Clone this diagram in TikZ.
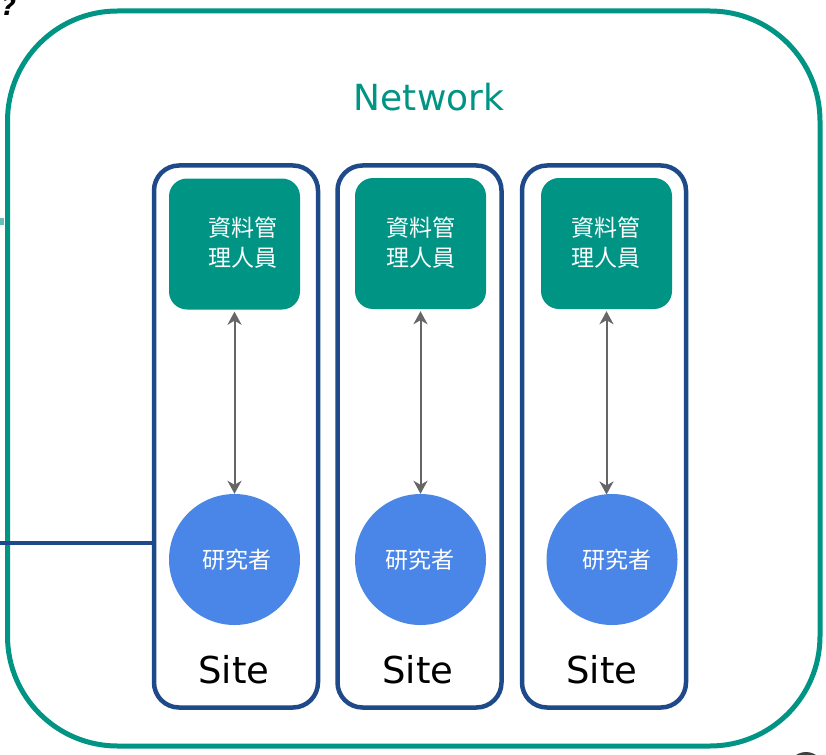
\documentclass[tikz,border=0pt]{standalone}
\usepackage{fontspec}
\setmainfont{DejaVu Sans}
\newfontfamily\cjk{Noto Sans CJK TC}
\usetikzlibrary{arrows.meta}
\definecolor{teal1}{HTML}{009485}
\definecolor{navy1}{HTML}{1F4A8A}
\definecolor{blue1}{HTML}{4A86E8}
\definecolor{gray1}{HTML}{666666}
\begin{document}
\begin{tikzpicture}[x=1pt,y=-1pt,
  network/.style={draw=teal1, line width=5pt, rounded corners=110pt, minimum width=812.5pt, minimum height=735pt, inner sep=0pt},
  sitebox/.style={draw=navy1, line width=4.5pt, rounded corners=25pt, minimum width=164pt, minimum height=542pt, inner sep=0pt},
  mgr/.style={fill=teal1, rounded corners=18pt, minimum size=131pt, inner sep=0pt},
  res/.style={circle, fill=blue1, minimum size=131pt, inner sep=0pt},
  wtext/.style={text=white, font=\cjk\fontsize{23}{30}\selectfont, align=center, inner sep=0pt},
  sitelbl/.style={font=\fontsize{37}{40}\selectfont, anchor=base, inner sep=0pt},
  link/.style={draw=gray1, line width=2pt, arrows={Stealth[length=13pt,width=14pt,inset=4pt]-Stealth[length=13pt,width=14pt,inset=4pt]}}
]
\useasboundingbox (0,0) rectangle (826,754);
\fill[white] (0,0) rectangle (826,754);

% outer network container
\node[network] (net) at (413.75,378.5) {};
\node[font=\fontsize{36}{40}\selectfont, text=teal1, anchor=base, inner sep=0pt] (netlbl) at (429,111) {Network};

% partial marks at the edges
\node[font=\bfseries\itshape\fontsize{25}{28}\selectfont, anchor=base, inner sep=0pt] (qm) at (9,16) {?};
\fill[teal1!60] (0,218) rectangle (4,225);
\fill[black!75] (806,770) circle (18);

% site boxes
\node[sitebox] (s1) at (236,436.5) {};
\node[sitebox] (s2) at (419.5,436.5) {};
\node[sitebox] (s3) at (604,436.5) {};

% managers
\node[mgr] (t1) at (234.5,244) {};
\node[mgr] (t2) at (420.5,243.5) {};
\node[mgr] (t3) at (606.5,243.5) {};
\node[wtext] (t1l) at (242.5,243) {資料管\\理人員};
\node[wtext] (t2l) at (421,243) {資料管\\理人員};
\node[wtext] (t3l) at (606,243) {資料管\\理人員};

% researchers
\node[res] (c1) at (234.5,559.5) {};
\node[res] (c2) at (420.5,559.5) {};
\node[res] (c3) at (612,559.5) {};
\node[wtext] (c1l) at (237,560) {研究者};
\node[wtext] (c2l) at (420,560) {研究者};
\node[wtext] (c3l) at (616.5,560) {研究者};

% site labels
\node[sitelbl] (l1) at (234,683) {Site};
\node[sitelbl] (l2) at (418,683) {Site};
\node[sitelbl] (l3) at (602,683) {Site};

% arrows
\draw[link, shorten <=2pt] (t1.south) -- (t1.south |- c1.north);
\draw[link, shorten <=2pt] (t2.south) -- (t2.south |- c2.north);
\coordinate (a3) at (606.5,494.5);
\draw[link, shorten <=2pt] (t3.south) -- (a3);

% incoming connector
\coordinate (lineend) at (0,543);
\draw[navy1, line width=4pt] (lineend) -- (lineend -| s1.west);
\end{tikzpicture}
\end{document}
